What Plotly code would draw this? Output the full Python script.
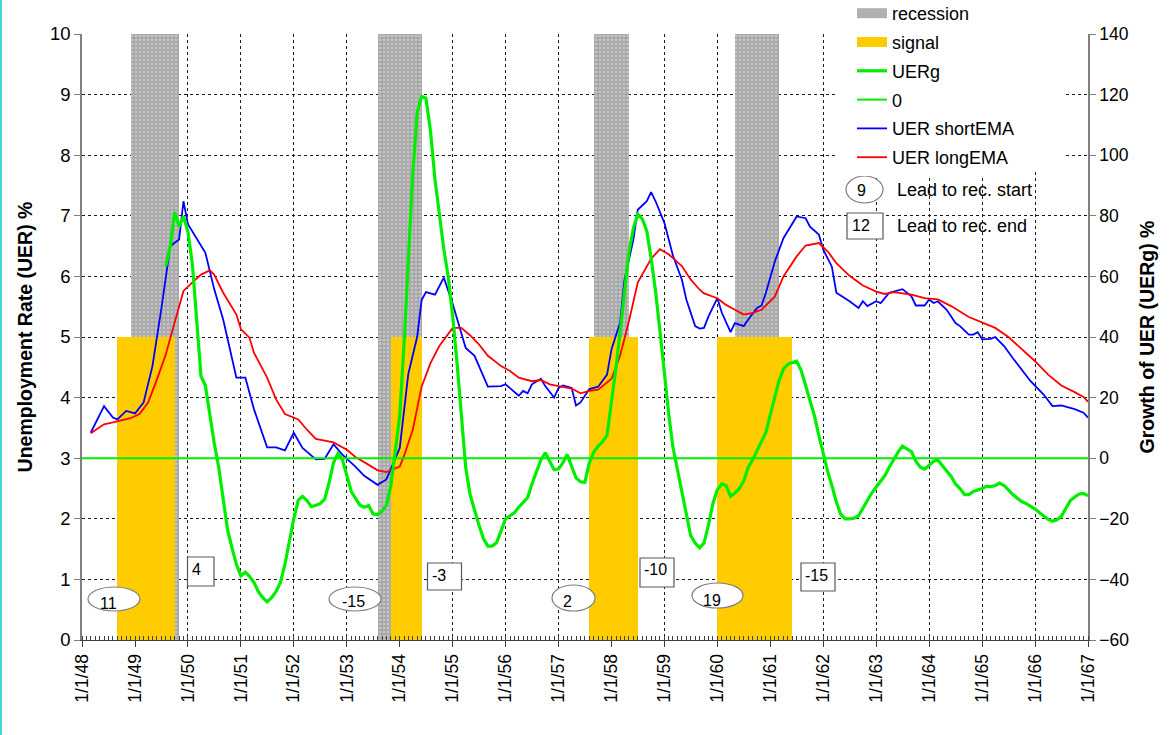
import pandas as pd
import plotly.graph_objects as go

# ---------------- data ----------------
short_dates = [
    "1948-03", "1948-06", "1948-08", "1948-09", "1948-11", "1949-01", "1949-03", "1949-05",
    "1949-07", "1949-09", "1949-11", "1949-12", "1950-01", "1950-05", "1950-07", "1950-09",
    "1950-12", "1951-02", "1951-04", "1951-07", "1951-09", "1951-11", "1952-01", "1952-03",
    "1952-06", "1952-08", "1952-10", "1952-12", "1953-03", "1953-05", "1953-08", "1953-10",
    "1954-01", "1954-03", "1954-05", "1954-06", "1954-07", "1954-09", "1954-11", "1955-01",
    "1955-04", "1955-06", "1955-09", "1955-12", "1956-01", "1956-02", "1956-04", "1956-05",
    "1956-06", "1956-07", "1956-09", "1956-10", "1956-12", "1957-01", "1957-02", "1957-04",
    "1957-05", "1957-06", "1957-08", "1957-10", "1957-12", "1958-01", "1958-03", "1958-04",
    "1958-06", "1958-07", "1958-09", "1958-10", "1958-11", "1959-01", "1959-03", "1959-05",
    "1959-06", "1959-08", "1959-09", "1959-10", "1959-11", "1960-01", "1960-02", "1960-04",
    "1960-05", "1960-07", "1960-08", "1960-10", "1960-11", "1960-12", "1961-02", "1961-04",
    "1961-06", "1961-07", "1961-09", "1961-10", "1961-12", "1962-01", "1962-03", "1962-04",
    "1962-07", "1962-09", "1962-10", "1962-11", "1963-01", "1963-02", "1963-04", "1963-05",
    "1963-07", "1963-09", "1963-10", "1963-12", "1964-01", "1964-02", "1964-03", "1964-05",
    "1964-07", "1964-08", "1964-10", "1964-11", "1964-12", "1965-01", "1965-03", "1965-04",
    "1965-06", "1965-08", "1965-10", "1965-12", "1966-03", "1966-05", "1966-07", "1966-10",
    "1966-12", "1967-01",
]
short_vals = [
    3.42, 3.86, 3.67, 3.64, 3.78, 3.74, 3.92, 4.52,
    5.46, 6.50, 6.61, 7.24, 6.86, 6.39, 5.79, 5.29,
    4.33, 4.33, 3.81, 3.18, 3.18, 3.13, 3.42, 3.17,
    2.98, 2.99, 3.23, 3.06, 2.86, 2.71, 2.56, 2.65,
    3.17, 4.39, 5.00, 5.61, 5.74, 5.70, 5.98, 5.55,
    4.82, 4.69, 4.18, 4.19, 4.22, 4.16, 4.03, 4.11,
    4.07, 4.22, 4.31, 4.19, 4.00, 4.16, 4.20, 4.16,
    3.87, 3.92, 4.14, 4.18, 4.38, 4.80, 5.24, 5.95,
    6.61, 7.10, 7.24, 7.39, 7.24, 6.88, 6.34, 5.95,
    5.62, 5.18, 5.14, 5.15, 5.34, 5.64, 5.40, 5.08,
    5.23, 5.18, 5.29, 5.48, 5.52, 5.73, 6.25, 6.63,
    6.88, 6.99, 6.96, 6.82, 6.69, 6.44, 6.16, 5.73,
    5.59, 5.48, 5.59, 5.51, 5.59, 5.56, 5.73, 5.75,
    5.79, 5.67, 5.52, 5.52, 5.62, 5.56, 5.59, 5.45,
    5.23, 5.18, 5.04, 5.04, 5.08, 4.96, 4.97, 5.00,
    4.85, 4.65, 4.46, 4.27, 4.05, 3.86, 3.87, 3.81,
    3.75, 3.67,
]

long_dates = [
    "1948-03", "1948-06", "1948-08", "1948-10", "1948-12", "1949-02", "1949-04", "1949-06",
    "1949-08", "1949-10", "1949-12", "1950-02", "1950-04", "1950-06", "1950-07", "1950-09",
    "1950-12", "1951-01", "1951-03", "1951-04", "1951-07", "1951-09", "1951-11", "1952-02",
    "1952-04", "1952-06", "1952-10", "1953-01", "1953-03", "1953-06", "1953-08", "1953-10",
    "1954-01", "1954-02", "1954-04", "1954-06", "1954-08", "1954-10", "1955-01", "1955-03",
    "1955-05", "1955-07", "1955-09", "1955-12", "1956-02", "1956-04", "1956-07", "1956-09",
    "1956-11", "1957-01", "1957-04", "1957-06", "1957-08", "1957-10", "1958-01", "1958-03",
    "1958-05", "1958-07", "1958-10", "1958-12", "1959-02", "1959-05", "1959-07", "1959-09",
    "1959-10", "1960-01", "1960-03", "1960-05", "1960-07", "1960-09", "1960-11", "1961-02",
    "1961-04", "1961-07", "1961-09", "1961-12", "1962-02", "1962-04", "1962-07", "1962-10",
    "1963-01", "1963-03", "1963-05", "1963-09", "1963-12", "1964-03", "1964-06", "1964-10",
    "1965-01", "1965-04", "1965-07", "1965-10", "1966-01", "1966-04", "1966-07", "1966-10",
    "1966-12", "1967-01",
]
long_vals = [
    3.41, 3.56, 3.59, 3.62, 3.66, 3.73, 3.92, 4.30,
    4.71, 5.24, 5.76, 5.90, 6.03, 6.10, 6.03, 5.73,
    5.37, 5.13, 4.99, 4.74, 4.33, 3.97, 3.73, 3.64,
    3.47, 3.32, 3.26, 3.14, 3.02, 2.89, 2.80, 2.77,
    2.86, 3.05, 3.47, 4.18, 4.57, 4.85, 5.15, 5.15,
    5.03, 4.88, 4.69, 4.52, 4.44, 4.33, 4.27, 4.29,
    4.22, 4.19, 4.15, 4.07, 4.11, 4.13, 4.31, 4.69,
    5.26, 5.90, 6.29, 6.45, 6.36, 6.17, 5.95, 5.78,
    5.72, 5.64, 5.53, 5.45, 5.37, 5.40, 5.45, 5.67,
    6.00, 6.33, 6.51, 6.55, 6.41, 6.22, 6.01, 5.85,
    5.75, 5.71, 5.74, 5.70, 5.64, 5.62, 5.51, 5.33,
    5.24, 5.15, 5.00, 4.80, 4.60, 4.38, 4.20, 4.09,
    4.01, 3.93,
]

# UERg: monthly values from Aug 1949 to Jan 1967 (right axis, %)
uerg_start = "1949-08-01"
uerg_vals = [
    63.4, 70, 81.2, 76.5, 79.8,                                          # 1949 Aug-Dec
    74.7, 63.8, 47, 27, 24, 14, 5, -3, -14, -23.6, -29.7, -35,            # 1950
    -38.8, -37.6, -39, -41, -44, -46, -47.4, -46, -44, -41, -35, -27,    # 1951
    -20, -13.8, -12.6, -14, -16, -15.5, -15, -13.5, -8, -1.5, 1.6, -0.4, # 1952
    -6, -11, -13.2, -15.5, -16.2, -15.6, -18.4, -18.6, -17.5, -15.5, -9, 2,  # 1953
    14, 38.8, 66, 94, 114, 119.4, 118.8, 108, 92, 80, 69, 60,            # 1954
    47, 31, 14, -3, -12, -17.5, -22, -26.5, -29, -29, -27.8, -24,        # 1955
    -20, -19, -18, -16.2, -14.5, -13, -8.5, -4.5, -0.5, 1.8, -1, -3.8,   # 1956
    -3.5, -1.4, 1.2, -2.8, -6.5, -7.8, -8, -1.5, 2, 4, 5.5, 7.5,         # 1957
    18, 30, 41.5, 55, 68, 76, 80.5, 79, 75, 66, 55, 42,                  # 1958
    27, 14, 3.5, -4, -11.5, -18, -25.5, -28, -29.6, -28, -22, -15,       # 1959
    -10.4, -8.5, -9, -12.6, -11.5, -10, -7.5, -3, -0.5, 2.5, 5.5, 8.5,   # 1960
    14.5, 20, 25.5, 29.5, 31, 31.6, 32, 29, 24, 19, 14, 7.5,             # 1961
    1, -4.5, -9, -14.5, -18.5, -20, -20, -19.8, -19, -16.5, -14.2, -11.5,  # 1962
    -9.5, -7.5, -5.8, -3, -0.5, 2, 4, 3, 2.2, -1, -3, -3.6,              # 1963
    -2.2, -1, -0.6, -2.5, -4, -6, -8.5, -10, -12, -12, -11, -10.5,       # 1964
    -10, -9.2, -9.4, -9, -8.2, -9, -10.5, -12, -13.2, -14.3, -15, -15.8, # 1965
    -16.8, -18, -19.2, -20.2, -20.8, -20.3, -19.2, -16.5, -14, -12.8, -11.8, -11.6,  # 1966
    -12.4,                                                               # 1967 Jan
]

zero_dates = ["1948-01-01", "1967-01-01"]
zero_vals = [0, 0]

# monthly column periods (first and last month of each block)
recession_starts = ["1948-12-01", "1953-08-01", "1957-09-01", "1960-05-01"]
recession_ends = ["1949-10-01", "1954-05-01", "1958-04-01", "1961-02-01"]
recession_level = 10
signal_starts = ["1948-09-01", "1953-11-01", "1957-08-01", "1960-01-01"]
signal_ends = ["1949-09-01", "1954-05-01", "1958-06-01", "1961-05-01"]
signal_level = 5

lead_start_labels = ["11", "-15", "2", "19"]
lead_end_labels = ["4", "-3", "-10", "-15"]
legend_lead_start = ("9", "Lead to rec. start")
legend_lead_end = ("12", "Lead to rec. end")

x_range = ["1948-01-01", "1967-01-01"]
left_range = [0, 10]
right_range = [-60, 140]

# ---------------- figure ----------------
FONT = "Liberation Sans, Arial, Helvetica, sans-serif"
W, H = 1175, 735
ML, MR, MT, MB = 82, 87, 34, 95
PW, PH = W - ML - MR, H - MT - MB

GREEN, BLUE, RED = "#00EE00", "#0000FF", "#FF0000"
GREY_BAR, YELLOW = "#A8A8A8", "#FFCC00"


def px2paper_x(px):
    return (px - ML) / PW


def px2paper_y(py):
    return (H - MB - py) / PH


def month_blocks(starts, ends):
    out = []
    for s, e in zip(starts, ends):
        out += list(pd.date_range(s, e, freq="MS"))
    return out


rec_x = month_blocks(recession_starts, recession_ends)
sig_x = month_blocks(signal_starts, signal_ends)
uerg_dates = pd.date_range(uerg_start, periods=len(uerg_vals), freq="MS")
BAR_W = 31 * 24 * 3600 * 1000

fig = go.Figure()
fig.add_trace(go.Bar(
    x=rec_x, y=[recession_level] * len(rec_x), width=BAR_W, offset=0,
    name="recession", yaxis="y", showlegend=False, legendgroup="rec",
    marker=dict(color=GREY_BAR, line=dict(width=0),
                pattern=dict(shape=".", fgcolor="#E4E4E4", size=4, solidity=0.35)),
    hoverinfo="skip",
))
fig.add_trace(go.Bar(
    x=sig_x, y=[signal_level] * len(sig_x), width=BAR_W, offset=0,
    name="signal", yaxis="y", showlegend=False, legendgroup="sig",
    marker=dict(color=YELLOW, line=dict(width=0)),
    hoverinfo="skip",
))
# legend keys for the two column series (wide rectangles like the original)
fig.add_trace(go.Scatter(x=[None], y=[None], mode="lines", name="recession",
                         legendgroup="rec", legendrank=1,
                         line=dict(color="#B0B0B0", width=13)))
fig.add_trace(go.Scatter(x=[None], y=[None], mode="lines", name="signal",
                         legendgroup="sig", legendrank=2,
                         line=dict(color=YELLOW, width=12)))
fig.add_trace(go.Scatter(
    x=short_dates, y=short_vals, mode="lines", name="UER shortEMA", yaxis="y",
    line=dict(color=BLUE, width=1.8), legendrank=5, legendgroup="short",
))
fig.add_trace(go.Scatter(
    x=long_dates, y=long_vals, mode="lines", name="UER longEMA", yaxis="y",
    line=dict(color=RED, width=1.8), legendrank=6, legendgroup="long",
))
fig.add_trace(go.Scatter(
    x=uerg_dates, y=uerg_vals, mode="lines", name="UERg", yaxis="y2",
    line=dict(color=GREEN, width=3.2), legendrank=3, legendgroup="uerg",
))
fig.add_trace(go.Scatter(
    x=zero_dates, y=zero_vals, mode="lines", name="0", yaxis="y2",
    line=dict(color=GREEN, width=2), legendrank=4, legendgroup="zero",
))

shapes = []
annotations = []

# white area behind the legend (hides the gridlines there)
shapes.append(dict(type="rect", xref="paper", yref="paper", layer="above",
                   x0=px2paper_x(838), x1=px2paper_x(1065),
                   y0=px2paper_y(170), y1=px2paper_y(MT - 1),
                   fillcolor="white", line=dict(width=0)))

# "lead to recession start" ellipses  (x0, x1, y0, y1, text-center-x, text-center-y)
ellipse_boxes = [(88, 140, 587, 611, 108, 603),
                 (329, 381, 587, 611, 353, 601),
                 (552, 595, 585, 611, 567, 601),
                 (692, 743, 583, 608, 712, 600)]
for lab, (x0, x1, y0, y1, tx, ty) in zip(lead_start_labels, ellipse_boxes):
    shapes.append(dict(type="circle", xref="paper", yref="paper", layer="above",
                       x0=px2paper_x(x0), x1=px2paper_x(x1),
                       y0=px2paper_y(y1), y1=px2paper_y(y0),
                       fillcolor="white", line=dict(color="#7F7F7F", width=1.2)))
    annotations.append(dict(xref="paper", yref="paper", x=px2paper_x(tx), y=px2paper_y(ty),
                            text=lab, showarrow=False, xanchor="center", yanchor="middle",
                            font=dict(size=16, color="black", family=FONT)))

# "lead to recession end" boxes (x0, x1, y0, y1, text-left, text-center-y)
rect_boxes = [(187.5, 214, 557, 586, 190, 569),
              (427.5, 461.5, 563, 590, 430, 575),
              (640, 674, 558, 587, 642, 569),
              (801, 835, 563, 591, 803, 575)]
for lab, (x0, x1, y0, y1, tx, ty) in zip(lead_end_labels, rect_boxes):
    shapes.append(dict(type="rect", xref="paper", yref="paper", layer="above",
                       x0=px2paper_x(x0), x1=px2paper_x(x1),
                       y0=px2paper_y(y1), y1=px2paper_y(y0),
                       fillcolor="white", line=dict(color="#595959", width=1.2)))
    annotations.append(dict(xref="paper", yref="paper", x=px2paper_x(tx), y=px2paper_y(ty),
                            text=lab, showarrow=False, xanchor="left", yanchor="middle",
                            font=dict(size=16, color="black", family=FONT)))

# extra legend keys for the two kinds of labels
shapes.append(dict(type="circle", xref="paper", yref="paper", layer="above",
                   x0=px2paper_x(846), x1=px2paper_x(883),
                   y0=px2paper_y(203), y1=px2paper_y(176),
                   fillcolor="white", line=dict(color="#7F7F7F", width=1.2)))
annotations.append(dict(xref="paper", yref="paper", x=px2paper_x(861), y=px2paper_y(191),
                        text=legend_lead_start[0], showarrow=False, xanchor="center",
                        yanchor="middle", font=dict(size=16, color="black", family=FONT)))
annotations.append(dict(xref="paper", yref="paper", x=px2paper_x(895), y=px2paper_y(190),
                        text=legend_lead_start[1], showarrow=False, xanchor="left",
                        yanchor="middle", font=dict(size=18, color="black", family=FONT)))
shapes.append(dict(type="rect", xref="paper", yref="paper", layer="above",
                   x0=px2paper_x(847), x1=px2paper_x(883),
                   y0=px2paper_y(239), y1=px2paper_y(213),
                   fillcolor="white", line=dict(color="#595959", width=1.2)))
annotations.append(dict(xref="paper", yref="paper", x=px2paper_x(850), y=px2paper_y(226),
                        text=legend_lead_end[0], showarrow=False, xanchor="left",
                        yanchor="middle", font=dict(size=16, color="black", family=FONT)))
annotations.append(dict(xref="paper", yref="paper", x=px2paper_x(895), y=px2paper_y(226),
                        text=legend_lead_end[1], showarrow=False, xanchor="left",
                        yanchor="middle", font=dict(size=18, color="black", family=FONT)))

# thin turquoise frame line on the left edge of the picture
shapes.append(dict(type="line", xref="paper", yref="paper", layer="above",
                   x0=px2paper_x(1), x1=px2paper_x(1),
                   y0=px2paper_y(H), y1=px2paper_y(0),
                   line=dict(color="#40D8D0", width=2)))

GRID = dict(showgrid=True, gridcolor="#1A1A1A", gridwidth=1, griddash="3px,3px")

fig.update_layout(
    width=W, height=H,
    margin=dict(l=ML, r=MR, t=MT, b=MB, pad=0, autoexpand=False),
    paper_bgcolor="white", plot_bgcolor="white",
    font=dict(family=FONT, size=18, color="black"),
    barmode="overlay", bargap=0,
    showlegend=True,
    legend=dict(x=px2paper_x(852), y=px2paper_y(-5), xanchor="left", yanchor="top",
                bgcolor="white", borderwidth=0, font=dict(size=18, family=FONT),
                traceorder="grouped", itemwidth=30, tracegroupgap=2.4),
    xaxis=dict(type="date", range=x_range, dtick="M12", tick0="1948-01-01",
               tickformat="%-m/%-d/%y", tickangle=-90, ticks="outside", ticklen=6,
               tickcolor="#404040", showline=True, linecolor="#404040", linewidth=1,
               zeroline=False, tickfont=dict(size=17.5),
               minor=dict(dtick="M1", ticks="inside", ticklen=4, tickcolor="#404040",
                          showgrid=False),
               **GRID),
    yaxis=dict(range=left_range, dtick=1, ticks="outside", ticklen=6, tickcolor="#808080",
               showline=True, linecolor="#808080", linewidth=1.5, zeroline=False,
               tickfont=dict(size=18.5),
               title=dict(text="<b>Unemployment Rate (UER) %</b>", font=dict(size=19.5),
                          standoff=12),
               **GRID),
    yaxis2=dict(range=right_range, dtick=20, overlaying="y", side="right", showgrid=False,
                zeroline=False, ticks="outside", ticklen=6, tickcolor="#808080",
                showline=True, linecolor="#808080", linewidth=1.5, tickfont=dict(size=17.5),
                title=dict(text="<b>Growth of UER (UERg) %</b>", font=dict(size=19.5),
                           standoff=12)),
    shapes=shapes,
    annotations=annotations,
)

fig.write_html("out.html", config={"displayModeBar": False},
               post_script="document.body.style.margin='0';")
